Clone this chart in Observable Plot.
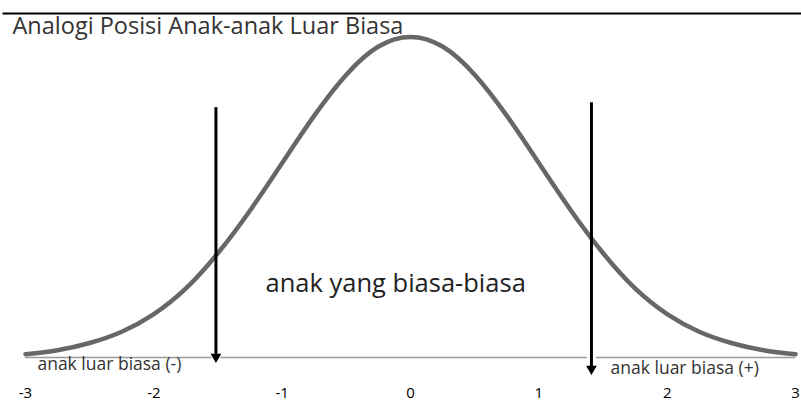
<!DOCTYPE html>
<html>
<head>
<meta charset="utf-8">
<script src="https://cdn.jsdelivr.net/npm/d3@7"></script>
<script src="https://cdn.jsdelivr.net/npm/@observablehq/plot@0.6"></script>
<style>
  html, body { margin: 0; padding: 0; background: #fff; }
  #chart svg { display: block; }
</style>
</head>
<body>
<div id="chart"></div>
<script>
// Curve readings (x in standard units, height of the curve)
const curveX = [-3, -2.75, -2.5, -2.25, -2, -1.75, -1.5, -1.25, -1, -0.75, -0.5, -0.25, 0,
                0.25, 0.5, 0.75, 1, 1.25, 1.5, 1.75, 2, 2.25, 2.5, 2.75, 3];
const curveY = [0.004, 0.009, 0.018, 0.032, 0.054, 0.086, 0.13, 0.183, 0.242, 0.301, 0.352, 0.387, 0.399,
                0.387, 0.352, 0.301, 0.242, 0.183, 0.13, 0.086, 0.054, 0.032, 0.018, 0.009, 0.004];

// Arrows: x position, top and tip heights
const arrowX = [-1.516, 1.41];
const arrowTop = [0.311, 0.317];
const arrowTip = [-0.006, -0.021];

// Tick labels
const tickValues = [-3, -2, -1, 0, 1, 2, 3];
const tickLabels = ["-3", "-2", "-1", "0", "1", "2", "3"];

// Texts
const titleText = "Analogi Posisi Anak-anak Luar Biasa";
const centerText = "anak yang biasa-biasa";
const sideLabels = ["anak luar biasa (-)", "anak luar biasa (+)"];
const sideLabelX = [-2.907, 1.559];
const sideLabelY = [-0.0082, -0.0132];
const centerX = -1.13, centerY = 0.092;

const curve = curveX.map((x, i) => ({x, y: curveY[i]}));
const arrows = arrowX.map((x, i) => ({x, top: arrowTop[i], tip: arrowTip[i]}));
const sides = sideLabels.map((t, i) => ({t, x: sideLabelX[i], y: sideLabelY[i]}));

const font = "'Open Sans', Lato, sans-serif";

const chart = Plot.plot({
  width: 801,
  height: 404,
  marginTop: 13,
  marginLeft: 3,
  marginRight: 0,
  marginBottom: 20,
  style: {fontFamily: font, background: "#fff", overflow: "visible"},
  x: {domain: [-3, 3], range: [25, 795], axis: null},
  y: {domain: [0, 0.4], range: [357, 35.6], axis: null},
  marks: [
    Plot.frame({anchor: "top", stroke: "#000", strokeWidth: 2}),
    Plot.ruleY([0], {x1: -3, x2: 3, stroke: "#999", strokeWidth: 1.5}),
    Plot.ruleX(arrows, {x: "x", y1: -0.005, y2: 0.005, stroke: "#fff", strokeWidth: 9}),
    Plot.line(curve, {x: "x", y: "y", curve: "natural", stroke: "#676767", strokeWidth: 4.5}),
    Plot.ruleX(arrows, {x: "x", y1: "top", y2: "tip", stroke: "#000", strokeWidth: 3, insetBottom: 7}),
    Plot.dot(arrows, {x: "x", y: "tip", symbol: "triangle", rotate: 180, r: 4, fill: "#000", stroke: "none", dy: -5.5}),
    Plot.text([titleText], {frameAnchor: "top-left", dx: 9, dy: 4, fontSize: 23.5, fill: "#333", textAnchor: "start", lineAnchor: "top"}),
    Plot.text([centerText], {x: () => centerX, y: () => centerY, fontSize: 25.5, fill: "#222", textAnchor: "start"}),
    Plot.text(sides, {x: "x", y: "y", text: "t", fontSize: 17.5, fill: "#333", textAnchor: "start", lineAnchor: "middle"}),
    Plot.axisX({ticks: tickValues, tickFormat: (d) => tickLabels[tickValues.indexOf(d)], tickSize: 0, tickPadding: 3, fontSize: 15, anchor: "bottom", fill: "#000", label: null})
  ]
});

document.getElementById("chart").appendChild(chart);
</script>
</body>
</html>
